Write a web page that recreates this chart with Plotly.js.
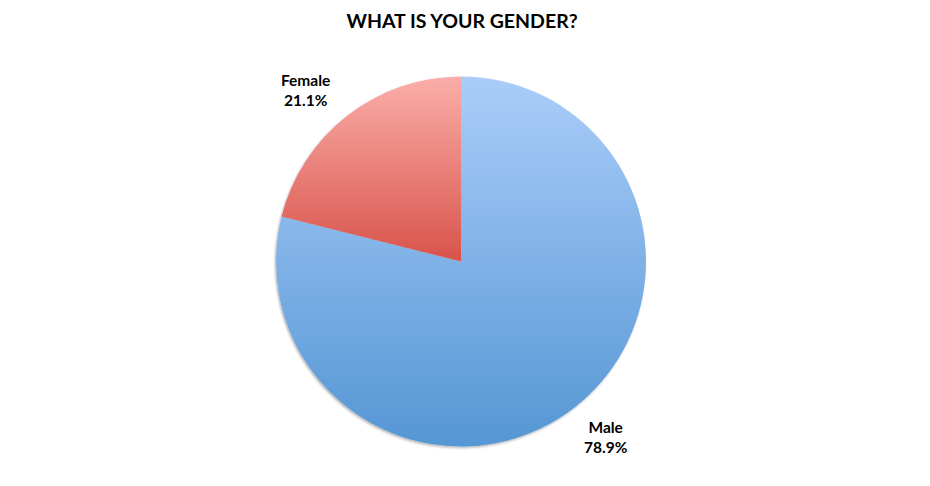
<!DOCTYPE html>
<html>
<head>
<meta charset="utf-8">
<script src="https://cdn.plot.ly/plotly-3.0.1.min.js"></script>
<style>html,body{margin:0;padding:0;background:#fff;}#chart{width:930px;height:486px;}</style>
</head>
<body>
<div id="chart"></div>
<script>
const categories = ["Male", "Female"];
const values = [78.9, 21.1];
const topColors = ["#AACDF9", "#FBAEAA"];
const bottomColors = ["#5596D4", "#D8534A"];
const labelPos = [[606, 437], [305, 90]];

const W = 930, H = 486;
const cx = 461, cy = 261.5, R = 185;

const annotations = categories.map((c, i) => ({
  text: "<b>" + c + "</b><br><b>" + values[i].toFixed(1) + "%</b>",
  xref: "paper", yref: "paper",
  x: labelPos[i][0] / W, y: 1 - labelPos[i][1] / H,
  xanchor: "center", yanchor: "middle",
  showarrow: false, align: "center",
  font: {family: "Lato, 'Open Sans', sans-serif", size: 15.5, color: "#000"}
}));

const data = [{
  type: "pie",
  labels: categories,
  values: values,
  sort: false,
  direction: "clockwise",
  rotation: 0,
  textinfo: "none",
  hoverinfo: "none",
  marker: {colors: bottomColors, line: {width: 0}},
  domain: {x: [(cx - R) / W, (cx + R) / W], y: [(H - cy - R) / H, (H - cy + R) / H]}
}];

const layout = {
  width: W, height: H,
  margin: {l: 0, r: 0, t: 0, b: 0},
  paper_bgcolor: "#fff",
  showlegend: false,
  title: {
    text: "<b>WHAT IS YOUR GENDER?</b>",
    x: 0.4968, xanchor: "center",
    y: 1 - 21 / H, yref: "container", yanchor: "middle",
    font: {family: "Lato, 'Open Sans', sans-serif", size: 19.5, color: "#000"}
  },
  annotations: annotations
};

Plotly.newPlot("chart", data, layout, {staticPlot: true}).then(gd => {
  const svg = gd.querySelector("svg.main-svg");
  const ns = "http://www.w3.org/2000/svg";
  let defs = svg.querySelector("defs");
  if (!defs) { defs = document.createElementNS(ns, "defs"); svg.insertBefore(defs, svg.firstChild); }
  const filt = document.createElementNS(ns, "filter");
  filt.setAttribute("id", "pieShadow");
  filt.setAttribute("x", "-10%"); filt.setAttribute("y", "-10%");
  filt.setAttribute("width", "120%"); filt.setAttribute("height", "120%");
  filt.innerHTML = '<feDropShadow dx="-1" dy="1.5" stdDeviation="1.2" flood-color="#000" flood-opacity="0.3"/>';
  defs.appendChild(filt);
  categories.forEach((c, i) => {
    const g = document.createElementNS(ns, "linearGradient");
    g.setAttribute("id", "grad" + i);
    g.setAttribute("x1", "0"); g.setAttribute("y1", "0");
    g.setAttribute("x2", "0"); g.setAttribute("y2", "1");
    const s1 = document.createElementNS(ns, "stop");
    s1.setAttribute("offset", "0"); s1.setAttribute("stop-color", topColors[i]);
    const s2 = document.createElementNS(ns, "stop");
    s2.setAttribute("offset", "1"); s2.setAttribute("stop-color", bottomColors[i]);
    g.appendChild(s1); g.appendChild(s2);
    defs.appendChild(g);
  });
  const paths = gd.querySelectorAll(".slice path.surface");
  paths.forEach((p, i) => { p.style.fill = "url(#grad" + i + ")"; });
  const trace = gd.querySelector(".trace");
  if (trace) trace.setAttribute("filter", "url(#pieShadow)");
});
</script>
</body>
</html>
